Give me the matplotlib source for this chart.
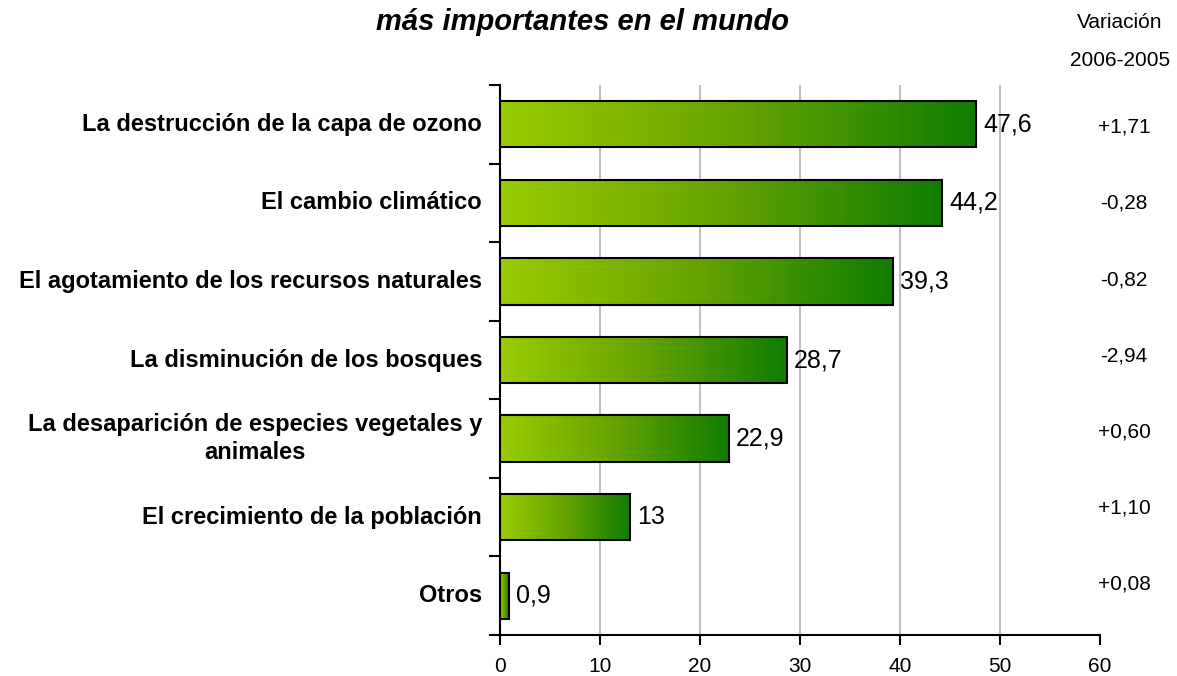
import numpy as np
import matplotlib.pyplot as plt
from matplotlib.colors import LinearSegmentedColormap

plt.rcParams['font.family'] = ['Liberation Sans', 'DejaVu Sans']

categories = ['La destrucción de la capa de ozono', 'El cambio climático',
              'El agotamiento de los recursos naturales', 'La disminución de los bosques',
              'La desaparición de especies vegetales y\nanimales', 'El crecimiento de la población',
              'Otros']
values = [47.6, 44.2, 39.3, 28.7, 22.9, 13, 0.9]
value_labels = ['47,6', '44,2', '39,3', '28,7', '22,9', '13', '0,9']
variation = ['+1,71', '-0,28', '-0,82', '-2,94', '+0,60', '+1,10', '+0,08']

cmap = LinearSegmentedColormap.from_list('grn', ['#99cc00', '#66a300', '#107d00'])
grad = np.linspace(0, 1, 256).reshape(1, -1)

fig = plt.figure(figsize=(11.77, 6.76), dpi=100)
ax = fig.add_axes([500 / 1177, 1 - 635 / 676, 600 / 1177, 550 / 676])

h = 0.59
for i, v in enumerate(values):
    ax.imshow(grad, cmap=cmap, aspect='auto', extent=[0, v, i + h / 2, i - h / 2],
              zorder=2, interpolation='bilinear')
    ax.barh(i, v, height=h, facecolor='none', edgecolor='black', linewidth=1.5, zorder=3)
    ax.text(v + 0.7, i, value_labels[i], va='center', ha='left', fontsize=18, zorder=4)

ax.set_xlim(0, 60)
ax.set_ylim(6.5, -0.5)
ax.set_xticks(np.arange(0, 61, 10))
ax.tick_params(axis='x', labelsize=15, length=7, width=1.5, pad=9)
ax.set_yticks(np.arange(-0.5, 7, 1))
ax.set_yticklabels([])
ax.tick_params(axis='y', length=8, width=1.5)
ax.grid(axis='x', color='#c0c0c0', linewidth=1.5, zorder=0)
ax.set_axisbelow(True)
ax.xaxis.get_gridlines()[-1].set_visible(False)
ax.xaxis.get_gridlines()[0].set_visible(False)
for s in ['top', 'right']:
    ax.spines[s].set_visible(False)
for s in ['left', 'bottom']:
    ax.spines[s].set_linewidth(1.5)

# category labels
for i, c in enumerate(categories):
    ax.text(-18 / 600, i, c, transform=ax.get_yaxis_transform(), ha='right', va='center',
            multialignment='center', fontsize=17, fontweight='bold', linespacing=1.3)

# variation column (slightly tighter spacing than the bars)
for i, t in enumerate(variation):
    ax.text(624 / 600, 0.04 + i * 0.968, t, transform=ax.get_yaxis_transform(),
            ha='center', va='center', fontsize=15)

fig.text(1120 / 1177, 1 - 22 / 676, 'Variación', ha='center', va='center', fontsize=15)
fig.text(1120 / 1177, 1 - 60 / 676, '2006-2005', ha='center', va='center', fontsize=15)
fig.text(582 / 1177, 1 - 22 / 676, 'más importantes en el mundo', ha='center', va='center',
         fontsize=21, fontweight='bold', fontstyle='italic')

fig.savefig('out.png', dpi=100)
